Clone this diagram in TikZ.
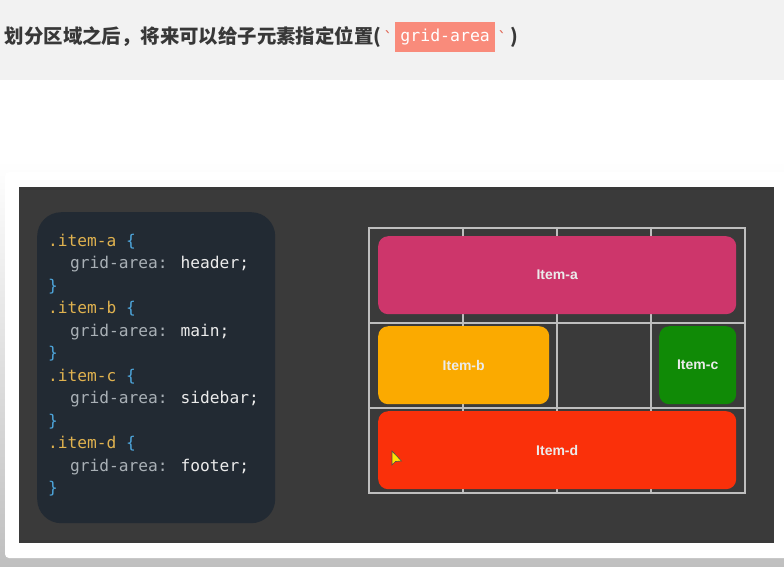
\documentclass[tikz,border=0pt]{standalone}
\usepackage{fontspec}
\usepackage{xcolor}
\usepackage{tikz}
\usetikzlibrary{positioning,calc}

\newfontfamily\cjk{Noto Sans CJK SC}
\newfontfamily\codefont{DejaVu Sans Mono}
\newfontfamily\labelfont{Liberation Sans}

\definecolor{pagegray}{HTML}{F2F2F2}
\definecolor{panelgray}{HTML}{3A3A3A}
\definecolor{codebg}{HTML}{222A33}
\definecolor{selcol}{HTML}{E0B24F}
\definecolor{bracecol}{HTML}{4EA6DC}
\definecolor{propcol}{HTML}{A9B0B6}
\definecolor{valcol}{HTML}{ECECEC}
\definecolor{hilite}{HTML}{F98B7B}
\definecolor{ticcol}{HTML}{E0604E}
\definecolor{gridcol}{HTML}{BEBEBE}
\definecolor{itema}{HTML}{CD366B}
\definecolor{itemb}{HTML}{FBAA00}
\definecolor{itemc}{HTML}{108A06}
\definecolor{itemd}{HTML}{FA300A}

\begin{document}
\begin{tikzpicture}[x=1pt, y=-1pt,
  titletxt/.style={inner sep=0pt, outer sep=0pt, text=black!78, font=\cjk\bfseries\fontsize{19.4}{22}\selectfont},
  tick/.style={inner sep=0pt, outer sep=0pt, text=ticcol, font=\codefont\fontsize{16}{18}\selectfont},
  area/.style={draw=none, rounded corners=10pt, inner sep=0pt, anchor=north west,
    text=white!92!black, font=\labelfont\bfseries\fontsize{14}{16}\selectfont},
  code/.style={anchor=base west, inner sep=0pt, font=\codefont\fontsize{16.2}{18}\selectfont},
  gline/.style={draw=gridcol, line width=1.2pt}]
\useasboundingbox (0,0) rectangle (784,566);
% page background, card and panel
\fill[white] (0,0) rectangle (784,566);
\fill[pagegray] (0,0) rectangle (784,80);
\shade[top color=white, bottom color=black!25] (0,160) rectangle (784,566);
\fill[white, rounded corners=4pt] (5,172) rectangle (795,558);
\fill[panelgray] (19,187) rectangle (774,543);
% heading line
\node[titletxt, anchor=west] (lead) at (5,37) {划分区域之后，将来可以给子元素指定位置(};
\node[tick, right=2pt of lead] (tickl) {\char96};
\node[fill=hilite, text=white, inner sep=0pt, minimum height=30pt, text width=100pt, align=center,
  font=\codefont\fontsize{16.5}{18}\selectfont, right=2pt of tickl] (tag) {grid-area};
\node[tick, right=2pt of tag] (tickr) {\char96};
\node[titletxt, right=3pt of tickr] (close) {)};
% css snippet
\node[fill=codebg, rounded corners=24pt, minimum width=238pt, minimum height=311pt, anchor=north west] (codebox) at (37,212) {};
\node[code] (sela) at (48,246) {\textcolor{selcol}{.item-a} \textcolor{bracecol}{\{}};
\node[code] (propa) at (70,268.5) {\textcolor{propcol}{grid-area:} \textcolor{valcol}{header;}};
\node[code] (enda) at (48,291) {\textcolor{bracecol}{\}}};
\node[code] (selb) at (48,313.5) {\textcolor{selcol}{.item-b} \textcolor{bracecol}{\{}};
\node[code] (propb) at (70,336) {\textcolor{propcol}{grid-area:} \textcolor{valcol}{main;}};
\node[code] (endb) at (48,358.5) {\textcolor{bracecol}{\}}};
\node[code] (selc) at (48,381) {\textcolor{selcol}{.item-c} \textcolor{bracecol}{\{}};
\node[code] (propc) at (70,403.5) {\textcolor{propcol}{grid-area:} \textcolor{valcol}{sidebar;}};
\node[code] (endc) at (48,426) {\textcolor{bracecol}{\}}};
\node[code] (seld) at (48,448.5) {\textcolor{selcol}{.item-d} \textcolor{bracecol}{\{}};
\node[code] (propd) at (70,471) {\textcolor{propcol}{grid-area:} \textcolor{valcol}{footer;}};
\node[code] (endd) at (48,493.5) {\textcolor{bracecol}{\}}};
% grid lines
\draw[gline] (369,228) rectangle (745,493);
\draw[gline] (463,228) -- (463,493);
\draw[gline] (557,228) -- (557,493);
\draw[gline] (651,228) -- (651,493);
\draw[gline] (369,323) -- (745,323);
\draw[gline] (369,408) -- (745,408);
% grid items
\node[area, fill=itema, minimum width=358pt, minimum height=78pt] (itema) at (378,236) {Item-a};
\node[area, fill=itemb, minimum width=171pt, minimum height=78pt] (itemb) at (378,326) {Item-b};
\node[area, fill=itemc, minimum width=77pt, minimum height=78pt] (itemc) at (659,326) {Item-c};
\node[area, fill=itemd, minimum width=358pt, minimum height=78pt] (itemd) at (378,411) {Item-d};
% mouse pointer
\filldraw[fill=yellow!85!orange, draw=black!70, line width=0.6pt] (392,451) -- (392,465) -- (395.5,461.5) -- (401.5,461) -- cycle;
\end{tikzpicture}
\end{document}
